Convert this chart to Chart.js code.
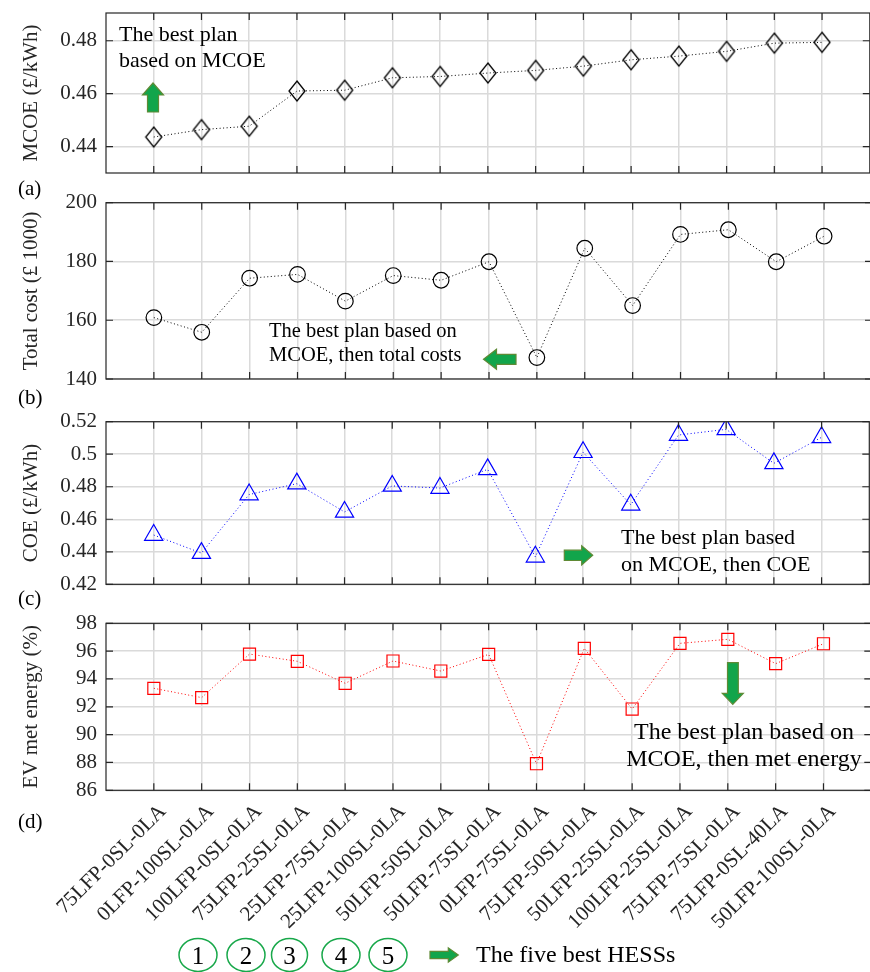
<!DOCTYPE html>
<html>
<head>
<meta charset="utf-8">
<script src="https://cdn.jsdelivr.net/npm/chart.js@4.4.1/dist/chart.umd.min.js"></script>
<style>
  html, body { margin: 0; padding: 0; background: #fff; overflow: hidden; }
  body { width: 870px; height: 972px; position: relative; font-family: 'Liberation Serif', 'Times New Roman', serif; color: #000; }
  canvas { position: absolute; left: 0; }
  .note { position: absolute; white-space: nowrap; }
  .tag { position: absolute; left: 18px; font-size: 21px; line-height: 24px; }
  svg.overlay { position: absolute; left: 0; top: 0; pointer-events: none; }
</style>
</head>
<body>
<canvas id="mcoe-chart" width="881" height="215" style="top:-17px"></canvas>
<canvas id="cost-chart" width="881" height="232" style="top:172px"></canvas>
<canvas id="coe-chart" width="881" height="219" style="top:391px"></canvas>
<canvas id="energy-chart" width="881" height="379" style="top:593px"></canvas>

<div class="tag" style="top:176px">(a)</div>
<div class="tag" style="top:385px">(b)</div>
<div class="tag" style="top:586px">(c)</div>
<div class="tag" style="top:809px">(d)</div>

<div class="note" style="left:119px; top:21px; font-size:22px; line-height:26px">The best plan<br>based on MCOE</div>
<div class="note" style="left:269px; top:318px; font-size:20.5px; line-height:24px">The best plan based on<br>MCOE, then total costs</div>
<div class="note" style="left:621px; top:523px; font-size:22px; line-height:27.4px">The best plan based<br>on MCOE, then COE</div>
<div class="note" style="left:624px; top:718px; width:240px; text-align:center; font-size:24px; line-height:26.7px">The best plan based on<br>MCOE, then met energy</div>
<div class="note" style="left:476px; top:941px; font-size:24px; line-height:26.6px">The five best HESSs</div>

<svg class="overlay" width="870" height="972">
  <g fill="#12a54b" stroke="#5f8a35" stroke-width="1.2">
    <polygon points="153,83 163.5,95 158.5,95 158.5,112 147.5,112 147.5,95 142.5,95"/>
    <polygon points="483.5,359.3 496.5,349.3 496.5,354.3 516,354.3 516,364.3 496.5,364.3 496.5,369.3"/>
    <polygon points="592.7,555.3 581.7,545.7 581.7,550.2 564.3,550.2 564.3,560.5 581.7,560.5 581.7,565"/>
    <polygon points="732.8,704.3 743.3,693.3 738.3,693.3 738.3,662.7 727.5,662.7 727.5,693.3 722.3,693.3"/>
    <polygon points="458.3,955 448.3,947.8 448.3,951.3 430,951.3 430,958.7 448.3,958.7 448.3,962.2"/>
  </g>
  <g fill="none" stroke="#18a84a" stroke-width="1.5">
    <ellipse cx="198" cy="955" rx="19" ry="16.5"/>
    <ellipse cx="246" cy="955" rx="19" ry="16.5"/>
    <ellipse cx="289.5" cy="955" rx="18" ry="16.5"/>
    <ellipse cx="341" cy="955" rx="19" ry="16.5"/>
    <ellipse cx="388" cy="955" rx="19" ry="16.5"/>
  </g>
  <g font-family="'Liberation Serif', 'Times New Roman', serif" font-size="25" text-anchor="middle" fill="#000">
    <text x="198" y="964">1</text>
    <text x="246" y="964">2</text>
    <text x="289.5" y="964">3</text>
    <text x="341" y="964">4</text>
    <text x="388" y="964">5</text>
  </g>
</svg>

<script>
// HESS configurations, ordered by MCOE
const hessLabels = [
    '75LFP-0SL-0LA', '0LFP-100SL-0LA', '100LFP-0SL-0LA', '75LFP-25SL-0LA',
    '25LFP-75SL-0LA', '25LFP-100SL-0LA', '50LFP-50SL-0LA', '50LFP-75SL-0LA',
    '0LFP-75SL-0LA', '75LFP-50SL-0LA', '50LFP-25SL-0LA', '100LFP-25SL-0LA',
    '75LFP-75SL-0LA', '75LFP-0SL-40LA', '50LFP-100SL-0LA'
];

const mcoeValues = [0.4436, 0.4464, 0.4477, 0.4610, 0.4613, 0.4660, 0.4665, 0.4678,
                    0.4688, 0.4704, 0.4728, 0.4742, 0.4760, 0.4791, 0.4794];
const totalCostValues = [160.9, 155.9, 174.3, 175.6, 166.5, 175.2, 173.6, 179.9,
                         147.3, 184.5, 165.0, 189.2, 190.8, 179.9, 188.6];
const coeValues = [0.4503, 0.4392, 0.4752, 0.4819, 0.4645, 0.4805, 0.4792, 0.4907,
                   0.4369, 0.5012, 0.4689, 0.5118, 0.5153, 0.4944, 0.5104];
const metEnergyValues = [93.33, 92.66, 95.79, 95.27, 93.69, 95.29, 94.57, 95.77,
                         87.91, 96.20, 91.84, 96.56, 96.85, 95.10, 96.53];

const mcoeTicks = [0.44, 0.46, 0.48];
const costTicks = [140, 160, 180, 200];
const coeTicks = [0.42, 0.44, 0.46, 0.48, 0.5, 0.52];
const energyTicks = [86, 88, 90, 92, 94, 96, 98];

const FONT = "'Liberation Serif', 'Times New Roman', serif";
const GRID = '#dadada';
const AXIS = '#262626';

// tall diamond marker, like the MATLAB 'd' symbol
function diamondMarker(w, h, color) {
    const c = document.createElement('canvas');
    c.width = w + 4;
    c.height = h + 4;
    const g = c.getContext('2d');
    g.strokeStyle = color;
    g.lineWidth = 1.3;
    g.beginPath();
    g.moveTo(c.width / 2, 2);
    g.lineTo(c.width - 2, c.height / 2);
    g.lineTo(c.width / 2, c.height - 2);
    g.lineTo(2, c.height / 2);
    g.closePath();
    g.stroke();
    return c;
}

// box outline with inward tick marks
const framePlugin = {
    id: 'frame',
    afterDatasetsDraw(chart) {
        const { ctx, chartArea: a, scales } = chart;
        ctx.save();
        ctx.strokeStyle = AXIS;
        ctx.lineWidth = 1.2;
        ctx.beginPath();
        scales.x.ticks.forEach(t => {
            const px = scales.x.getPixelForValue(t.value);
            ctx.moveTo(px, a.top); ctx.lineTo(px, a.top + 7);
            ctx.moveTo(px, a.bottom); ctx.lineTo(px, a.bottom - 7);
        });
        scales.y.ticks.forEach(t => {
            const py = scales.y.getPixelForValue(t.value);
            ctx.moveTo(a.left, py); ctx.lineTo(a.left + 7, py);
            ctx.moveTo(a.right, py); ctx.lineTo(a.right - 7, py);
        });
        ctx.stroke();
        ctx.strokeRect(a.left, a.top, a.right - a.left, a.bottom - a.top);
        ctx.restore();
    }
};

function makePanel(id, opts) {
    const ctx = document.getElementById(id);
    return new Chart(ctx, {
        type: 'line',
        data: {
            datasets: [{
                data: opts.values.map((v, i) => ({ x: i + 1, y: v })),
                borderColor: opts.color,
                borderWidth: 1,
                borderDash: [1, 2.5],
                pointStyle: opts.pointStyle,
                pointRadius: opts.pointRadius,
                pointBorderColor: opts.color,
                pointBackgroundColor: 'rgba(0,0,0,0)',
                pointBorderWidth: 1.2,
                tension: 0
            }]
        },
        options: {
            responsive: false,
            animation: false,
            events: [],
            layout: { padding: { top: opts.padTop, left: 0, right: 0, bottom: 0 } },
            plugins: { legend: { display: false }, tooltip: { enabled: false } },
            scales: {
                x: {
                    type: 'linear',
                    min: 0,
                    max: 16,
                    afterBuildTicks: scale => {
                        scale.ticks = hessLabels.map((_, i) => ({ value: i + 1 }));
                    },
                    afterFit: scale => { scale.height = opts.xHeight; },
                    grid: { color: GRID, lineWidth: 1.5, drawTicks: false },
                    border: { display: false },
                    ticks: {
                        display: opts.showLabels,
                        autoSkip: false,
                        minRotation: 45,
                        maxRotation: 45,
                        padding: 15,
                        labelOffset: 9,
                        color: AXIS,
                        font: { family: FONT, size: 21, lineHeight: 0.4 },
                        callback: v => hessLabels[v - 1] || ''
                    }
                },
                y: {
                    min: opts.min,
                    max: opts.max,
                    afterBuildTicks: scale => {
                        scale.ticks = opts.ticks.map(v => ({ value: v }));
                    },
                    afterFit: scale => { scale.width = 106; },
                    grid: { color: GRID, lineWidth: 1.5, drawTicks: false },
                    border: { display: false },
                    ticks: {
                        autoSkip: false,
                        padding: 9,
                        color: AXIS,
                        font: { family: FONT, size: 21 },
                        callback: v => String(+v.toFixed(2))
                    },
                    title: {
                        display: true,
                        text: opts.title,
                        color: AXIS,
                        font: { family: FONT, size: 21 },
                        padding: { top: 19, bottom: 0 }
                    }
                }
            }
        },
        plugins: [framePlugin]
    });
}

makePanel('mcoe-chart', {
    values: mcoeValues, ticks: mcoeTicks, min: 0.43, max: 0.4905,
    title: 'MCOE (£/kWh)', color: '#000000',
    pointStyle: diamondMarker(16, 20, '#000000'), pointRadius: 10,
    padTop: 30, xHeight: 25, showLabels: false
});

makePanel('cost-chart', {
    values: totalCostValues, ticks: costTicks, min: 140, max: 200,
    title: 'Total cost (£ 1000)', color: '#000000',
    pointStyle: 'circle', pointRadius: 7.8,
    padTop: 30.7, xHeight: 25, showLabels: false
});

makePanel('coe-chart', {
    values: coeValues, ticks: coeTicks, min: 0.42, max: 0.52,
    title: 'COE (£/kWh)', color: '#0000ff',
    pointStyle: 'triangle', pointRadius: 10.5,
    padTop: 30.7, xHeight: 25.7, showLabels: false
});

makePanel('energy-chart', {
    values: metEnergyValues, ticks: energyTicks, min: 86, max: 98,
    title: 'EV met energy (%)', color: '#ff0000',
    pointStyle: 'rect', pointRadius: 8.5,
    padTop: 30.3, xHeight: 181.7, showLabels: true
});
</script>
</body>
</html>
